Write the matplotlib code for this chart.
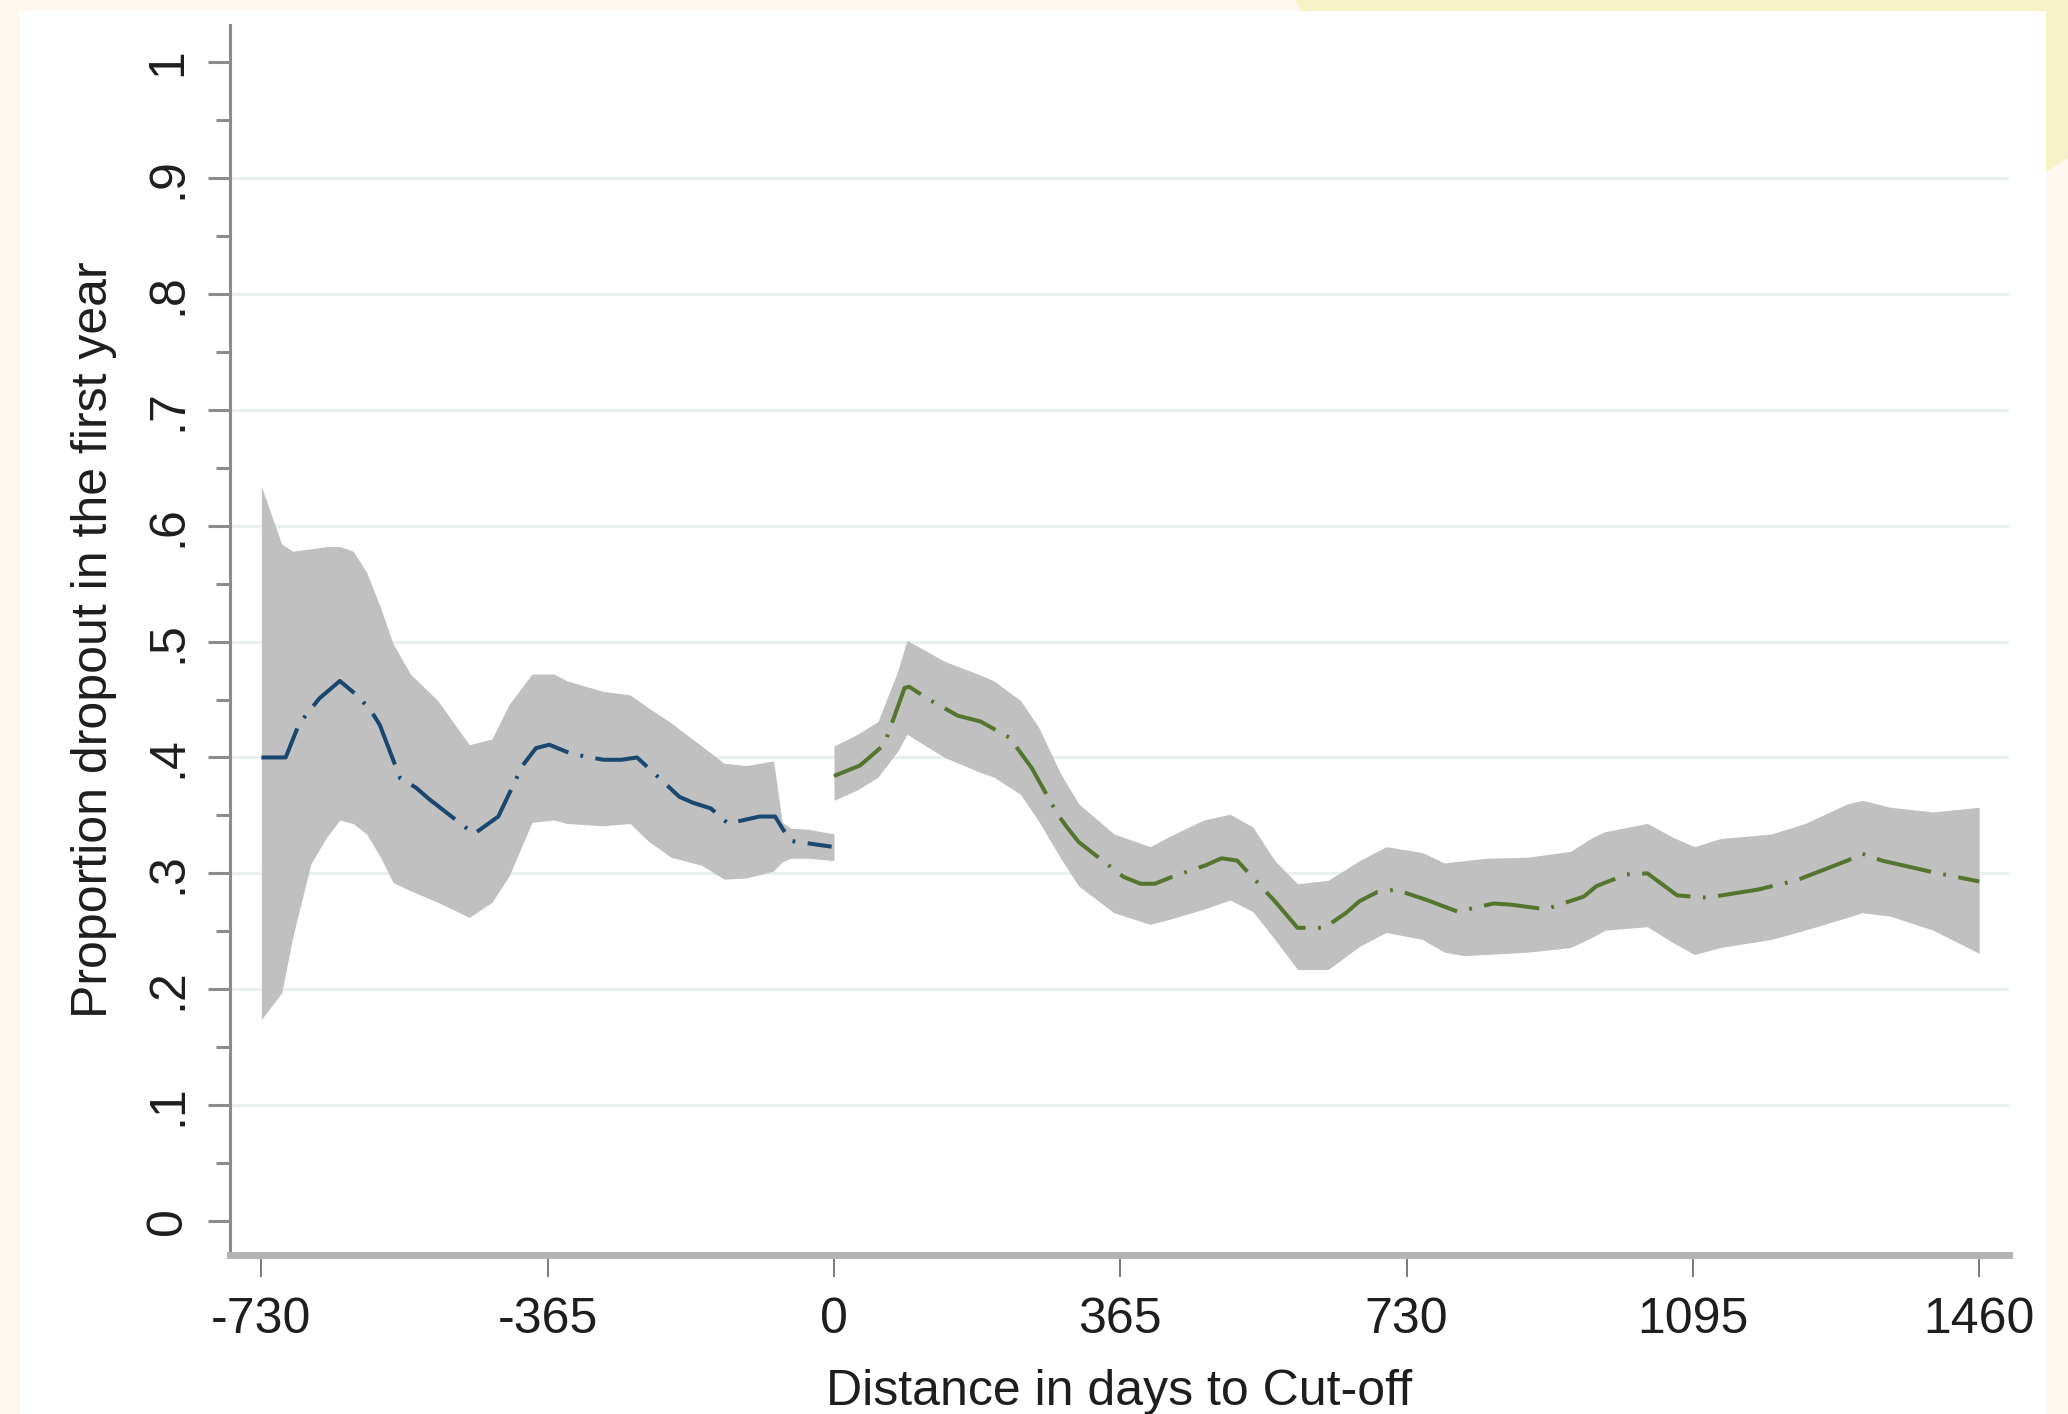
import matplotlib
matplotlib.use("Agg")
import matplotlib.pyplot as plt
from matplotlib.patches import Rectangle, Polygon

plt.rcParams['font.family'] = ['Liberation Sans', 'DejaVu Sans']
plt.rcParams['lines.scale_dashes'] = False

# ---------------- data ----------------
# Left of cut-off (blue)
blue_x = [-730, -699, -682, -656, -630, -607, -590, -579, -553, -533, -516, -459,
          -428, -397, -380, -363, -334, -294, -271, -251, -197, -180, -157, -135,
          -95, -75, -66, -55, -3]
blue_y = [.400, .400, .429, .451, .466, .453, .440, .428, .382, .374, .364, .334,
          .349, .393, .408, .411, .403, .398, .398, .400, .366, .361, .356, .343,
          .349, .349, .339, .328, .323]

blue_band_x = [-730, -704, -690, -667, -647, -630, -613, -596, -579, -562, -540,
               -505, -465, -436, -414, -385, -357, -340, -294, -260, -237, -208,
               -169, -140, -112, -77, -66, -55, -32, 0]
blue_hi = [.634, .584, .578, .580, .582, .582, .578, .560, .531, .498, .472,
           .449, .411, .416, .446, .472, .472, .466, .457, .454, .443, .430,
           .410, .395, .393, .397, .344, .339, .338, .334]
blue_lo = [.174, .197, .245, .308, .331, .346, .343, .334, .315, .292, .285,
           .275, .262, .275, .298, .344, .346, .343, .341, .343, .328, .314,
           .307, .295, .296, .302, .310, .313, .313, .311]

# Right of cut-off (green)
green_x = [0, 33, 64, 90, 96, 121, 158, 187, 224, 238, 252, 286, 298, 312, 369,
           391, 409, 431, 474, 494, 514, 562, 591, 625, 653, 670, 693, 716, 756,
           795, 841, 863, 907, 956, 972, 1010, 1037, 1075, 1113, 1178, 1227, 1292,
           1311, 1336, 1401, 1460]
green_y = [.384, .393, .411, .460, .461, .450, .436, .431, .417, .404, .391, .350,
           .339, .327, .297, .291, .291, .297, .307, .313, .311, .276, .253, .253,
           .266, .276, .284, .286, .277, .267, .274, .273, .269, .280, .289, .299,
           .300, .281, .279, .286, .294, .311, .317, .311, .301, .293]

green_band_x = [0, 30, 56, 81, 93, 141, 187, 204, 238, 261, 289, 312, 357, 403,
                431, 471, 505, 534, 562, 591, 630, 670, 704, 750, 778, 804, 831,
                885, 939, 967, 983, 1037, 1070, 1097, 1130, 1195, 1238, 1292,
                1311, 1347, 1401, 1460]
green_hi = [.410, .420, .431, .474, .501, .483, .471, .466, .449, .426, .386,
            .360, .334, .323, .333, .346, .351, .340, .311, .291, .294, .311,
            .323, .318, .309, .311, .313, .314, .319, .331, .336, .343, .331,
            .323, .330, .334, .343, .360, .363, .357, .353, .357]
green_lo = [.363, .372, .383, .405, .420, .400, .387, .383, .368, .345, .313,
            .289, .266, .256, .261, .269, .277, .267, .243, .217, .217, .237,
            .249, .243, .232, .229, .230, .232, .236, .245, .251, .254, .240,
            .230, .236, .243, .251, .262, .266, .263, .251, .231]

x_ticks = [-730, -365, 0, 365, 730, 1095, 1460]
x_ticklabels = ["-730", "-365", "0", "365", "730", "1095", "1460"]
y_ticks = [0, .1, .2, .3, .4, .5, .6, .7, .8, .9, 1]
y_ticklabels = ["0", ".1", ".2", ".3", ".4", ".5", ".6", ".7", ".8", ".9", "1"]
y_minor = [.05, .15, .25, .35, .45, .55, .65, .75, .85, .95]

xlabel = "Distance in days to Cut-off"
ylabel = "Proportion dropout in the first year"

# ---------------- figure ----------------
W, H = 2068, 1414
fig = plt.figure(figsize=(W / 100, H / 100), dpi=100)
fig.patch.set_facecolor('#FDF9F1')

def fx(px):
    return px / W

def fy(py):
    return 1 - py / H

yellow = Polygon([(fx(1295), fy(0)), (fx(W), fy(0)), (fx(W), fy(158)),
                  (fx(2040), fy(176)), (fx(1330), fy(60))],
                 closed=True, transform=fig.transFigure,
                 facecolor='#F8F3C6', edgecolor='none', zorder=-3)
fig.add_artist(yellow)
panel = Rectangle((fx(20), 0), fx(2046) - fx(20), fy(11), transform=fig.transFigure,
                  facecolor='white', edgecolor='none', zorder=-2)
fig.add_artist(panel)

left, right, top, bottom = 230, 2009, 25, 1255
ax = fig.add_axes([fx(left), fy(bottom), fx(right) - fx(left), fy(top) - fy(bottom)])
ax.set_facecolor('none')
ax.set_xlim(-770, 1498)
ax.set_ylim(-0.0293, 1.032)

for g in y_ticks[1:-1]:
    ax.axhline(g, color='#E9F0F1', lw=2.2, zorder=0)

band_col = '#C0C0C0'
ax.fill_between(blue_band_x, blue_lo, blue_hi, color=band_col, lw=0, zorder=1)
ax.fill_between(green_band_x, green_lo, green_hi, color=band_col, lw=0, zorder=1)

dash = (0, (40, 9, 2, 9))
ax.plot(blue_x, blue_y, color='#1A476F', lw=2.9, linestyle=dash, zorder=2)
ax.plot(green_x, green_y, color='#55752F', lw=2.9, linestyle=dash, zorder=2)

for s in ['top', 'right']:
    ax.spines[s].set_visible(False)
ax.spines['left'].set_color('#8C8C8C')
ax.spines['left'].set_linewidth(2.2)
ax.spines['bottom'].set_color('#B4B4B4')
ax.spines['bottom'].set_linewidth(5)

ax.set_xticks(x_ticks)
ax.set_xticklabels(x_ticklabels)
ax.set_yticks(y_ticks)
ax.set_yticklabels(y_ticklabels, rotation=90, va='center')
ax.set_yticks(y_minor, minor=True)

ax.tick_params(axis='y', which='major', length=16, width=2.2, color='#8C8C8C',
               labelsize=36, pad=12, labelcolor='#1E1E1E')
ax.tick_params(axis='y', which='minor', length=10, width=2.2, color='#8C8C8C')
ax.tick_params(axis='x', which='major', length=16, width=1.4, color='#7A7A7A',
               labelsize=36, pad=14, labelcolor='#1E1E1E')

ax.set_xlabel(xlabel, fontsize=36, color='#1E1E1E', labelpad=19)
ax.set_ylabel(ylabel, fontsize=36, color='#1E1E1E', labelpad=20)

fig.savefig('out.png', dpi=100, facecolor=fig.get_facecolor())
